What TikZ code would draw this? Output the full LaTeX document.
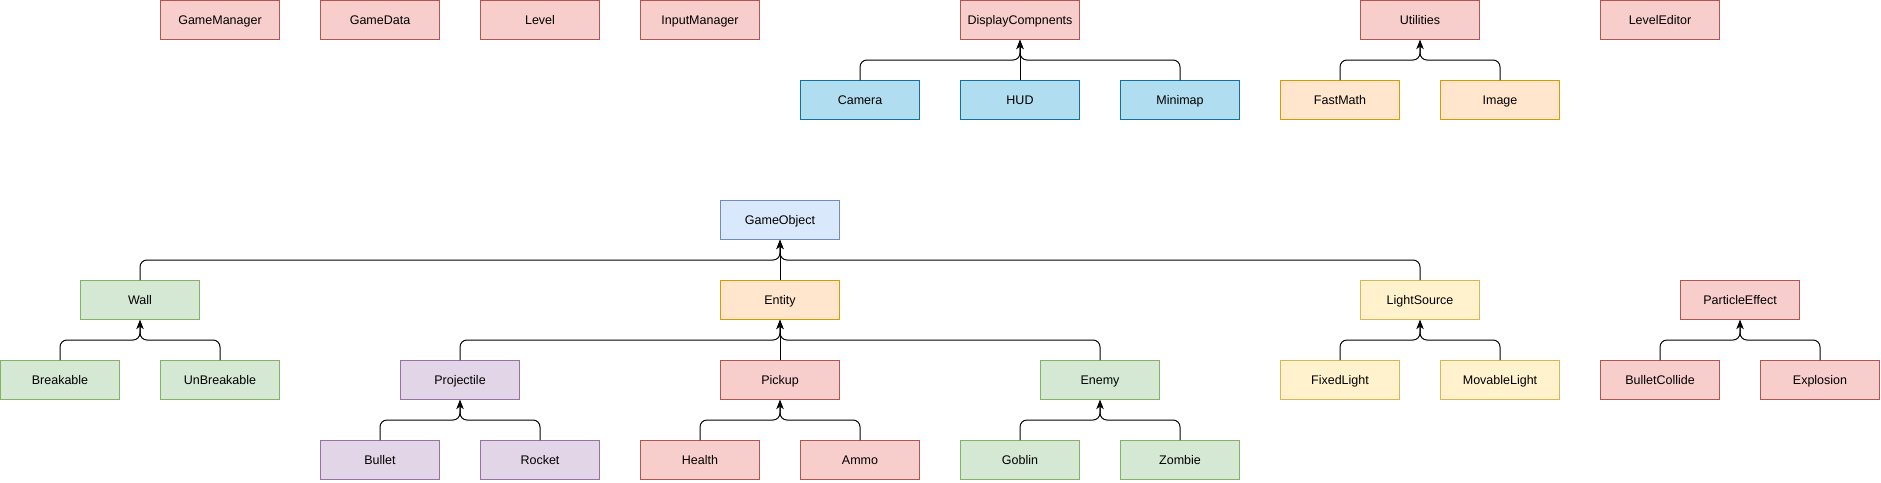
\documentclass[tikz,border=0pt]{standalone}
\usepackage{fontspec}
\setmainfont{Liberation Sans}
\usetikzlibrary{arrows.meta}
\definecolor{redF}{HTML}{F8CECC}\definecolor{redD}{HTML}{B85450}
\definecolor{cyanF}{HTML}{B1DDF0}\definecolor{cyanD}{HTML}{10739E}
\definecolor{blueF}{HTML}{DAE8FC}\definecolor{blueD}{HTML}{6C8EBF}
\definecolor{orangeF}{HTML}{FFE6CC}\definecolor{orangeD}{HTML}{D79B00}
\definecolor{yellowF}{HTML}{FFF2CC}\definecolor{yellowD}{HTML}{D6B656}
\definecolor{greenF}{HTML}{D5E8D4}\definecolor{greenD}{HTML}{82B366}
\definecolor{purpleF}{HTML}{E1D5E7}\definecolor{purpleD}{HTML}{9673A6}
\tikzset{
  box/.style={draw, line width=1pt, minimum width=119pt, minimum height=39pt, inner sep=0pt, text height=11pt, text depth=2pt, font=\fontsize{12.5}{14}\selectfont},
  redbox/.style={box, fill=redF, draw=redD},
  cyanbox/.style={box, fill=cyanF, draw=cyanD},
  bluebox/.style={box, fill=blueF, draw=blueD},
  orangebox/.style={box, fill=orangeF, draw=orangeD},
  yellowbox/.style={box, fill=yellowF, draw=yellowD},
  greenbox/.style={box, fill=greenF, draw=greenD},
  purplebox/.style={box, fill=purpleF, draw=purpleD},
  edge/.style={line width=1pt, rounded corners=7pt, -{Stealth[length=9pt,width=7pt]}},
}
\begin{document}
\begin{tikzpicture}[x=1pt,y=-1pt]
\useasboundingbox (0,0) rectangle (1881,482);
% top row
\node[redbox] (GM) at (220,20) {GameManager};
\node[redbox] (GD) at (380,20) {GameData};
\node[redbox] (LV) at (540,20) {Level};
\node[redbox] (IM) at (700,20) {InputManager};
\node[redbox] (DC) at (1020,20) {DisplayCompnents};
\node[redbox] (UT) at (1420,20) {Utilities};
\node[redbox] (LE) at (1660,20) {LevelEditor};
% second row
\node[cyanbox] (CA) at (860,100) {Camera};
\node[cyanbox] (HUD) at (1020,100) {HUD};
\node[cyanbox] (MM) at (1180,100) {Minimap};
\node[orangebox] (FM) at (1340,100) {FastMath};
\node[orangebox] (IMG) at (1500,100) {Image};
% game object
\node[bluebox] (GO) at (780,220) {GameObject};
\node[greenbox] (WA) at (140,300) {Wall};
\node[orangebox] (EN) at (780,300) {Entity};
\node[yellowbox] (LS) at (1420,300) {LightSource};
\node[redbox] (PE) at (1740,300) {ParticleEffect};
% row 4
\node[greenbox] (BR) at (60,380) {Breakable};
\node[greenbox] (UB) at (220,380) {UnBreakable};
\node[purplebox] (PR) at (460,380) {Projectile};
\node[redbox] (PU) at (780,380) {Pickup};
\node[greenbox] (EM) at (1100,380) {Enemy};
\node[yellowbox] (FL) at (1340,380) {FixedLight};
\node[yellowbox] (ML) at (1500,380) {MovableLight};
\node[redbox] (BC) at (1660,380) {BulletCollide};
\node[redbox] (EX) at (1820,380) {Explosion};
% row 5
\node[purplebox] (BU) at (380,460) {Bullet};
\node[purplebox] (RO) at (540,460) {Rocket};
\node[redbox] (HE) at (700,460) {Health};
\node[redbox] (AM) at (860,460) {Ammo};
\node[greenbox] (GB) at (1020,460) {Goblin};
\node[greenbox] (ZO) at (1180,460) {Zombie};
% connectors
\draw[edge] (CA.north) |- ([yshift=-20pt]DC.south) -- (DC.south);
\draw[edge] (MM.north) |- ([yshift=-20pt]DC.south) -- (DC.south);
\draw[edge] (HUD.north) -- (DC.south);
\draw[edge] (FM.north) |- ([yshift=-20pt]UT.south) -- (UT.south);
\draw[edge] (IMG.north) |- ([yshift=-20pt]UT.south) -- (UT.south);
\draw[edge] (WA.north) |- ([yshift=-20pt]GO.south) -- (GO.south);
\draw[edge] (LS.north) |- ([yshift=-20pt]GO.south) -- (GO.south);
\draw[edge] (EN.north) -- (GO.south);
\draw[edge] (BR.north) |- ([yshift=-20pt]WA.south) -- (WA.south);
\draw[edge] (UB.north) |- ([yshift=-20pt]WA.south) -- (WA.south);
\draw[edge] (PR.north) |- ([yshift=-20pt]EN.south) -- (EN.south);
\draw[edge] (EM.north) |- ([yshift=-20pt]EN.south) -- (EN.south);
\draw[edge] (PU.north) -- (EN.south);
\draw[edge] (FL.north) |- ([yshift=-20pt]LS.south) -- (LS.south);
\draw[edge] (ML.north) |- ([yshift=-20pt]LS.south) -- (LS.south);
\draw[edge] (BC.north) |- ([yshift=-20pt]PE.south) -- (PE.south);
\draw[edge] (EX.north) |- ([yshift=-20pt]PE.south) -- (PE.south);
\draw[edge] (BU.north) |- ([yshift=-20pt]PR.south) -- (PR.south);
\draw[edge] (RO.north) |- ([yshift=-20pt]PR.south) -- (PR.south);
\draw[edge] (HE.north) |- ([yshift=-20pt]PU.south) -- (PU.south);
\draw[edge] (AM.north) |- ([yshift=-20pt]PU.south) -- (PU.south);
\draw[edge] (GB.north) |- ([yshift=-20pt]EM.south) -- (EM.south);
\draw[edge] (ZO.north) |- ([yshift=-20pt]EM.south) -- (EM.south);
\end{tikzpicture}
\end{document}
